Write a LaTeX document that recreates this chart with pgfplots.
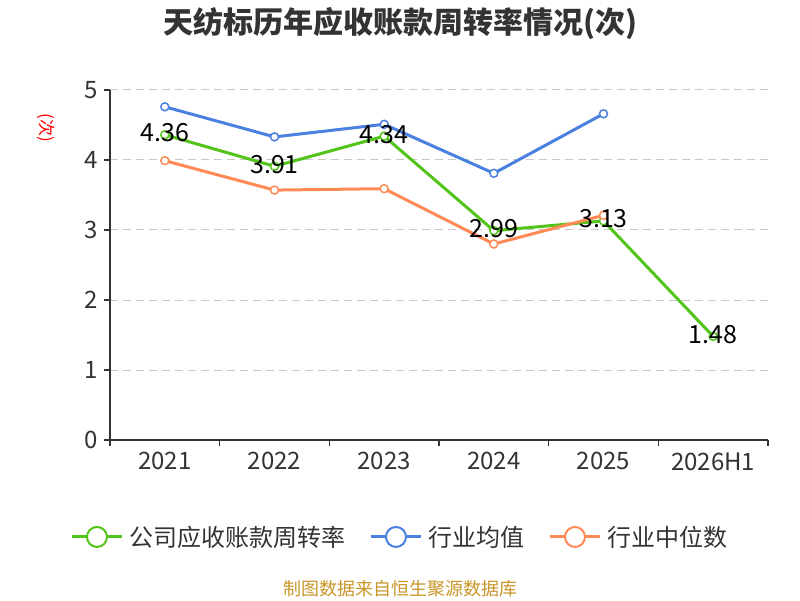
\documentclass[border=0pt]{standalone}
\usepackage{pgfplots}
\pgfplotsset{compat=1.18}
\usepackage{fontspec}
\setmainfont{Noto Sans CJK SC}
\definecolor{cgreen}{RGB}{82,196,26}
\definecolor{cblue}{RGB}{74,128,224}
\definecolor{corange}{RGB}{255,138,85}
\definecolor{ctext}{RGB}{51,51,51}
\definecolor{cgrid}{RGB}{200,200,200}
\definecolor{cfoot}{RGB}{200,150,40}
\begin{document}
\begin{tikzpicture}[x=1pt,y=1pt]
\path[use as bounding box] (0,0) rectangle (800,600);
\node[font=\fontsize{30}{33}\selectfont\bfseries, text=ctext] at (400,576) {天纺标历年应收账款周转率情况(次)};
\node[font=\fontsize{17}{20}\selectfont, text=red, rotate=-90] at (46,472) {(次)};
\node[font=\fontsize{18}{21}\selectfont, text=cfoot] at (400,11) {制图数据来自恒生聚源数据库};
\begin{axis}[
  at={(110pt,160pt)}, anchor=south west,
  scale only axis, width=658pt, height=350pt,
  xmin=-0.5, xmax=5.5, ymin=0, ymax=5,
  axis lines=left, axis line style={-, ctext, line width=1.2pt},
  xtick={0,...,5},
  xticklabels={2021,2022,2023,2024,2025,2026H1},
  minor xtick={-0.5,0.5,...,5.5},
  ytick={0,...,5},
  tick align=outside,
  major tick length=6pt, minor tick length=6pt,
  major x tick style={draw=none},
  every tick/.style={ctext, line width=1.2pt},
  minor tick style={ctext, line width=1.2pt},
  ymajorgrids, major grid style={cgrid, dashed, line width=1pt, dash pattern=on 8pt off 5pt},
  tick label style={font=\fontsize{24}{27}\selectfont, text=ctext},
  xticklabel style={yshift=-3pt},
  yticklabel style={xshift=-3pt},
  /pgf/number format/assume math mode=true,
  legend style={at={(0.4407,-0.277)}, anchor=center, draw=none, fill=none,
    font=\fontsize{24}{27}\selectfont, text=ctext,
    /tikz/every odd column/.append style={column sep=4pt},
    /tikz/every even column/.append style={column sep=22pt}},
  legend columns=3,
  legend image code/.code={
    \draw[#1, mark=none] (0pt,0pt)--(50pt,0pt);
    \draw[#1, mark=none, fill=white, line width=2pt] (25pt,0pt) circle (10pt);
  },
  every axis plot/.append style={line width=3pt, mark=*, mark size=4pt,
    mark options={fill=white, line width=1.5pt}},
]
\addplot[cgreen] coordinates {(0,4.36) (1,3.91) (2,4.34) (3,2.99) (4,3.13) (5,1.48)};
\addlegendentry{公司应收账款周转率}
\addplot[cblue] coordinates {(0,4.76) (1,4.33) (2,4.51) (3,3.81) (4,4.66)};
\addlegendentry{行业均值}
\addplot[corange] coordinates {(0,3.99) (1,3.57) (2,3.59) (3,2.80) (4,3.21)};
\addlegendentry{行业中位数}
\addplot[draw=none, mark=none, forget plot,
  nodes near coords, point meta=explicit symbolic,
  every node near coord/.append style={anchor=center, yshift=2pt, text=black,
    font=\fontsize{25}{28}\selectfont}]
  coordinates {(0,4.36) [4.36] (1,3.91) [3.91] (2,4.34) [4.34] (3,2.99) [2.99] (4,3.13) [3.13] (5,1.48) [1.48]};
\end{axis}
\end{tikzpicture}
\end{document}
